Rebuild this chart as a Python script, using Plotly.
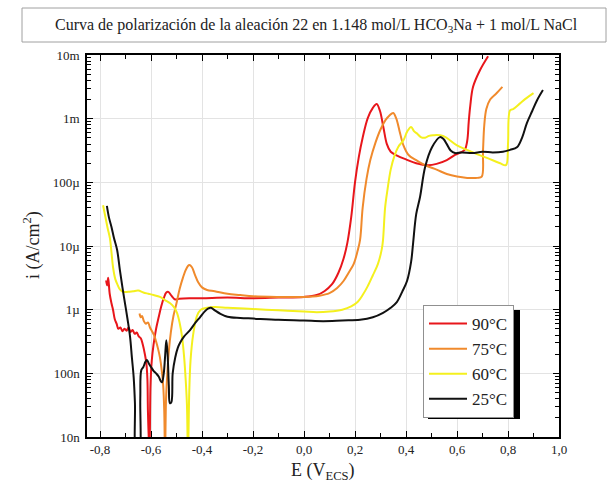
import numpy as np
import plotly.graph_objects as go

# Polarization curves: potential E (V vs SCE) and log10 of current density (A/cm^2)
E_90 = [-0.776, -0.772, -0.768, -0.762, -0.755, -0.749, -0.742, -0.735, -0.728, -0.720,
        -0.712, -0.704, -0.696, -0.688, -0.680, -0.672, -0.664, -0.656, -0.648, -0.640,
        -0.632, -0.624, -0.618, -0.614, -0.612, -0.606, -0.602, -0.597, -0.590, -0.580,
        -0.570, -0.560, -0.550, -0.540, -0.532, -0.520, -0.505, -0.490, -0.450, -0.400,
        -0.300, -0.200, -0.100, 0.000, 0.050, 0.080, 0.110, 0.135, 0.155, 0.170,
        0.185, 0.200, 0.215, 0.230, 0.250, 0.270, 0.285, 0.298, 0.312, 0.325,
        0.340, 0.365, 0.400, 0.440, 0.486, 0.520, 0.560, 0.592, 0.630, 0.640,
        0.646, 0.652, 0.663, 0.690, 0.722]
logi_90 = [-5.54, -5.62, -5.50, -5.75, -5.90, -6.00, -6.15, -6.22, -6.30, -6.28,
           -6.34, -6.30, -6.33, -6.28, -6.35, -6.32, -6.38, -6.36, -6.42, -6.45,
           -6.55, -6.70, -6.85, -7.10, -7.60, -8.30, -7.20, -6.80, -6.55, -6.30,
           -6.12, -5.95, -5.82, -5.73, -5.72, -5.78, -5.84, -5.83, -5.82, -5.82,
           -5.81, -5.82, -5.81, -5.80, -5.77, -5.71, -5.60, -5.42, -5.20, -4.95,
           -4.55, -4.00, -3.60, -3.30, -2.99, -2.83, -2.77, -2.88, -3.15, -3.40,
           -3.52, -3.58, -3.64, -3.70, -3.73, -3.71, -3.65, -3.57, -3.49, -3.35,
           -3.05, -2.80, -2.50, -2.24, -2.02]

E_75 = [-0.645, -0.640, -0.635, -0.628, -0.620, -0.612, -0.604, -0.596, -0.588, -0.580,
        -0.572, -0.565, -0.558, -0.552, -0.548, -0.545, -0.541, -0.536, -0.530, -0.522,
        -0.512, -0.500, -0.488, -0.475, -0.462, -0.450, -0.440, -0.428, -0.415, -0.400,
        -0.380, -0.350, -0.300, -0.250, -0.200, -0.100, 0.000, 0.060, 0.100, 0.130,
        0.155, 0.175, 0.195, 0.210, 0.220, 0.230, 0.245, 0.260, 0.280, 0.300,
        0.320, 0.335, 0.350, 0.362, 0.375, 0.390, 0.410, 0.440, 0.480, 0.520,
        0.560, 0.600, 0.640, 0.680, 0.697, 0.702, 0.707, 0.715, 0.730, 0.755,
        0.778]
logi_75 = [-6.06, -6.12, -6.10, -6.18, -6.22, -6.20, -6.28, -6.34, -6.40, -6.50,
           -6.62, -6.75, -6.95, -7.20, -7.60, -8.30, -7.40, -7.00, -6.65, -6.35,
           -6.10, -5.90, -5.68, -5.50, -5.36, -5.30, -5.33, -5.45, -5.57, -5.65,
           -5.69, -5.71, -5.75, -5.77, -5.79, -5.80, -5.80, -5.78, -5.74, -5.66,
           -5.55, -5.42, -5.28, -5.08, -4.90, -4.40, -3.95, -3.65, -3.38, -3.17,
           -3.02, -2.95, -2.91, -3.00, -3.20, -3.42, -3.57, -3.65, -3.74, -3.80,
           -3.87, -3.91, -3.93, -3.93, -3.91, -3.50, -3.10, -2.85, -2.70, -2.60,
           -2.50]

E_60 = [-0.788, -0.780, -0.770, -0.761, -0.755, -0.749, -0.740, -0.730, -0.722, -0.710,
        -0.690, -0.670, -0.650, -0.630, -0.610, -0.590, -0.565, -0.545, -0.525, -0.510,
        -0.498, -0.487, -0.478, -0.470, -0.464, -0.459, -0.455, -0.450, -0.445, -0.435,
        -0.420, -0.405, -0.380, -0.350, -0.300, -0.200, -0.100, 0.000, 0.050, 0.100,
        0.150, 0.185, 0.210, 0.230, 0.250, 0.270, 0.290, 0.305, 0.310, 0.318,
        0.328, 0.340, 0.355, 0.370, 0.390, 0.405, 0.420, 0.432, 0.445, 0.458,
        0.475, 0.490, 0.506, 0.545, 0.600, 0.639, 0.680, 0.720, 0.769, 0.792,
        0.800, 0.808, 0.820, 0.847, 0.875, 0.900]
logi_60 = [-4.36, -4.52, -4.72, -4.88, -5.10, -5.33, -5.52, -5.62, -5.68, -5.72,
           -5.72, -5.71, -5.70, -5.73, -5.75, -5.77, -5.80, -5.85, -5.90, -5.96,
           -6.05, -6.22, -6.43, -6.75, -7.10, -7.50, -8.30, -7.30, -6.80, -6.40,
           -6.10, -6.00, -5.97, -5.96, -5.97, -5.99, -6.01, -6.03, -6.04, -6.03,
           -6.00, -5.95, -5.88, -5.77, -5.63, -5.46, -5.28, -5.05, -4.90, -4.40,
           -4.10, -3.80, -3.58, -3.44, -3.34, -3.20, -3.13, -3.20, -3.24, -3.29,
           -3.30, -3.27, -3.26, -3.27, -3.42, -3.49, -3.56, -3.62, -3.70, -3.73,
           -3.40, -2.87, -2.85, -2.76, -2.67, -2.60]

E_25 = [-0.773, -0.765, -0.755, -0.745, -0.733, -0.722, -0.712, -0.702, -0.692, -0.682,
        -0.675, -0.668, -0.663, -0.658, -0.650, -0.645, -0.642, -0.638, -0.630, -0.622,
        -0.616, -0.608, -0.600, -0.590, -0.580, -0.570, -0.562, -0.557, -0.550, -0.545,
        -0.540, -0.535, -0.530, -0.526, -0.520, -0.515, -0.505, -0.495, -0.486, -0.470,
        -0.447, -0.425, -0.408, -0.390, -0.375, -0.365, -0.350, -0.330, -0.300, -0.250,
        -0.200, -0.100, 0.000, 0.075, 0.150, 0.220, 0.270, 0.310, 0.340, 0.364,
        0.385, 0.404, 0.420, 0.428, 0.440, 0.455, 0.475, 0.502, 0.533, 0.547,
        0.560, 0.575, 0.592, 0.620, 0.660, 0.700, 0.740, 0.780, 0.808, 0.835,
        0.855, 0.874, 0.895, 0.914, 0.937]
logi_25 = [-4.37, -4.55, -4.70, -4.88, -5.06, -5.38, -5.65, -5.90, -6.15, -6.43,
           -6.75, -7.06, -7.47, -8.30, -8.30, -8.30, -7.40, -6.95, -6.90, -6.82,
           -6.79, -6.85, -6.90, -6.96, -7.00, -7.05, -7.12, -7.14, -7.00, -6.75,
           -6.48, -6.70, -7.20, -7.47, -7.45, -7.00, -6.75, -6.60, -6.52, -6.42,
           -6.32, -6.20, -6.12, -6.03, -5.98, -5.97, -6.01, -6.06, -6.11, -6.13,
           -6.14, -6.16, -6.17, -6.18, -6.17, -6.16, -6.12, -6.05, -5.97, -5.88,
           -5.72, -5.55, -5.25, -4.95, -4.50, -4.23, -3.76, -3.45, -3.29, -3.32,
           -3.40, -3.50, -3.54, -3.53, -3.54, -3.52, -3.53, -3.52, -3.49, -3.45,
           -3.30, -3.07, -2.88, -2.71, -2.55]

series = [
    ("90°C", E_90, logi_90, "#e8161b"),
    ("75°C", E_75, logi_75, "#f08a2c"),
    ("60°C", E_60, logi_60, "#f4f01e"),
    ("25°C", E_25, logi_25, "#111111"),
]

x_tickvals = [-0.8, -0.6, -0.4, -0.2, 0.0, 0.2, 0.4, 0.6, 0.8, 1.0]
x_ticktext = ["-0,8", "-0,6", "-0,4", "-0,2", "0,0", "0,2", "0,4", "0,6", "0,8", "1,0"]
x_minor = [-0.7, -0.5, -0.3, -0.1, 0.1, 0.3, 0.5, 0.7, 0.9]
y_tickvals = [1e-8, 1e-7, 1e-6, 1e-5, 1e-4, 1e-3, 1e-2]
y_ticktext = ["10n", "100n", "1µ", "10µ", "100µ", "1m", "10m"]
y_minor = [m * d for d in (1e-8, 1e-7, 1e-6, 1e-5, 1e-4, 1e-3) for m in range(2, 10)]

FONT = "Liberation Serif"
W, H = 608, 493
ML, MR, MT, MB = 87, 49, 55, 56
PW, PH = W - ML - MR, H - MT - MB


def px(xp):
    return (xp - ML) / PW


def py(yp):
    return (H - MB - yp) / PH


fig = go.Figure()
for name, e, li, col in series:
    fig.add_trace(go.Scatter(
        x=e, y=np.power(10.0, li), mode="lines", name=name,
        line=dict(color=col, width=2), line_shape="spline",
    ))

axis_common = dict(
    showline=True, linecolor="black", linewidth=1.5, mirror="allticks",
    ticks="inside", ticklen=6, tickcolor="black", tickwidth=1.2,
    showgrid=True, gridcolor="#e3e3e3", gridwidth=1, zeroline=False,
    tickfont=dict(family=FONT, size=13, color="#222"),
)

fig.update_xaxes(
    range=[-0.851, 1.0], tickvals=x_tickvals, ticktext=x_ticktext,
    minor=dict(ticks="inside", ticklen=4, tickvals=x_minor, tickcolor="black", showgrid=False),
    **axis_common,
)
fig.update_yaxes(
    type="log", range=[-8, -2], tickvals=y_tickvals, ticktext=y_ticktext,
    minor=dict(ticks="inside", ticklen=4, tickvals=y_minor, tickcolor="black", showgrid=False),
    ticklabelstandoff=3,
    **axis_common,
)

# Title box and legend drop shadow
fig.add_shape(type="rect", xref="paper", yref="paper",
              x0=px(22), x1=px(606), y0=py(42), y1=py(8),
              line=dict(color="#a0a0a0", width=1), fillcolor="white", layer="below")
fig.add_shape(type="rect", xref="paper", yref="paper",
              x0=px(428), x1=px(520), y0=py(419), y1=py(310),
              line=dict(width=0), fillcolor="black", layer="above")

fig.add_annotation(xref="paper", yref="paper", x=px(316), y=py(26),
                   text="Curva de polarización de la aleación 22 en 1.148 mol/L HCO<sub>3</sub>Na + 1 mol/L NaCl",
                   showarrow=False, font=dict(family=FONT, size=16, color="#222"),
                   xanchor="center", yanchor="middle")
fig.add_annotation(xref="paper", yref="paper", x=px(32), y=py(245),
                   text="i (A/cm<sup>2</sup>)", textangle=-90, showarrow=False,
                   font=dict(family=FONT, size=18, color="#222"),
                   xanchor="center", yanchor="middle")
fig.add_annotation(xref="paper", yref="paper", x=px(323), y=py(472),
                   text="E (V<sub>ECS</sub>)", showarrow=False,
                   font=dict(family=FONT, size=18, color="#222"),
                   xanchor="center", yanchor="middle")

fig.update_layout(
    width=W, height=H,
    margin=dict(l=ML, r=MR, t=MT, b=MB),
    paper_bgcolor="white", plot_bgcolor="white",
    showlegend=True,
    legend=dict(
        x=px(423), y=py(305), xanchor="left", yanchor="top",
        bgcolor="white", bordercolor="#909090", borderwidth=1,
        font=dict(family=FONT, size=17, color="#222"),
        itemwidth=38, tracegroupgap=0,
    ),
)

fig.write_html("out.html")
